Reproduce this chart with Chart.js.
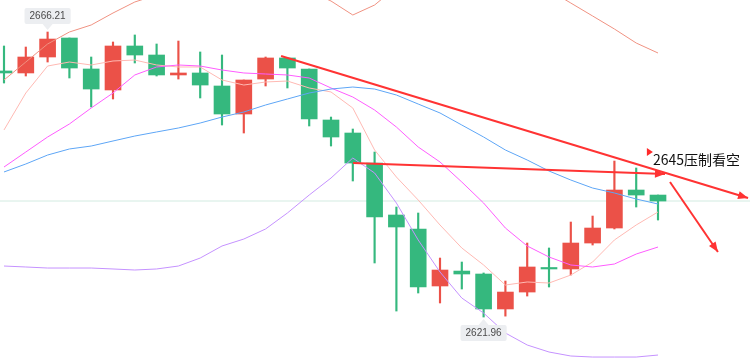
<!DOCTYPE html>
<html><head><meta charset="utf-8">
<script src="https://cdn.jsdelivr.net/npm/chart.js@4.4.1/dist/chart.umd.min.js"></script>
<style>html,body{margin:0;padding:0;background:#fff;overflow:hidden}#wrap{width:750px;height:358px;position:relative}</style>
</head><body><div id="wrap"><canvas id="c"></canvas></div>
<script>
// ---- data ----
const opens  = [2660.16,2659.85,2662.33,2665.28,2660.47,2657.21,2664.04,2662.64,2659.54,2659.85,2657.83,2653.48,2658.91,2662.18,2660.47,2652.55,2650.53,2645.87,2637.80,2635.63,2626.78,2629.10,2628.64,2623.21,2625.84,2629.57,2629.42,2633.45,2635.78,2641.68,2640.90];
const highs  = [2664.04,2663.88,2666.21,2665.28,2662.33,2664.66,2665.75,2664.35,2664.81,2663.11,2662.64,2658.76,2662.33,2662.18,2660.47,2653.01,2651.15,2647.58,2639.04,2638.11,2631.12,2630.50,2628.80,2627.55,2633.45,2632.68,2636.71,2637.64,2646.18,2645.10,2640.90];
const lows   = [2658.29,2659.38,2661.55,2659.07,2654.57,2655.81,2661.40,2659.38,2658.91,2655.97,2651.77,2650.53,2657.83,2657.52,2651.62,2648.51,2643.08,2630.35,2622.89,2625.69,2624.14,2626.31,2621.96,2622.10,2625.22,2626.62,2628.48,2633.14,2635.63,2639.04,2637.02];
const closes = [2659.85,2662.33,2665.12,2660.62,2657.36,2664.04,2662.64,2659.54,2659.85,2657.98,2653.48,2658.76,2662.18,2660.62,2652.70,2649.91,2645.87,2637.49,2635.94,2626.62,2629.26,2628.64,2623.21,2625.84,2629.73,2629.42,2633.45,2635.78,2641.68,2640.90,2639.97];
const ma5    = [2651.00,2656.74,2660.93,2661.55,2661.09,2661.71,2661.86,2661.09,2660.78,2660.78,2658.76,2657.98,2658.45,2658.60,2657.52,2656.90,2654.41,2647.89,2643.70,2640.13,2636.25,2632.68,2630.04,2626.93,2627.40,2627.24,2628.48,2630.50,2633.92,2636.25,2638.27];
const ma10   = [2645.25,2647.58,2649.91,2651.93,2654.41,2656.74,2659.54,2660.78,2661.09,2660.93,2660.31,2659.85,2659.69,2659.54,2659.07,2657.52,2656.12,2654.10,2651.46,2648.36,2646.03,2642.92,2639.66,2635.78,2632.99,2631.28,2630.04,2629.73,2630.19,2631.74,2632.83];
const bollMid   = [2644.48,2645.72,2647.11,2648.05,2648.51,2649.29,2650.06,2650.69,2651.31,2652.08,2653.01,2653.79,2654.88,2655.81,2656.74,2657.36,2657.67,2657.36,2656.43,2655.03,2653.64,2651.77,2649.91,2647.89,2646.34,2644.63,2643.23,2641.99,2641.22,2640.28,2639.51];
const bollUpper = [2658.76,2661.55,2664.35,2666.21,2667.30,2669.16,2670.87,2671.96,2672.73,2673.04,2673.04,2673.51,2674.13,2673.51,2672.58,2671.02,2668.85,2670.40,2673.20,2676.15,2678.32,2678.63,2677.23,2676.30,2675.06,2672.73,2670.71,2668.70,2666.68,2664.50,2662.95];
const bollLower = [2629.88,2629.73,2629.57,2629.57,2629.57,2629.42,2629.26,2629.42,2629.88,2631.12,2632.99,2634.07,2635.63,2638.11,2640.90,2643.54,2646.65,2644.32,2639.66,2633.92,2628.95,2624.91,2622.58,2619.48,2617.62,2616.53,2615.91,2615.75,2615.75,2615.75,2616.06];
const categories = opens.map((_, i) => i);
// drawn annotations, in (index, price) units
const trendLine1 = [[12.71, 2662.49], [34.13, 2640.44]];
const trendLine2 = [[16.01, 2645.87], [30.32, 2644.16]];
const arrowDown  = [[30.55, 2642.92], [32.75, 2632.05]];
const noteText   = '2645压制看空';
const notePos    = [29.72, 2647.58];
const highLabel  = [2, 2666.21, '2666.21'];
const lowLabel   = [22, 2621.96, '2621.96'];

const UP = '#eb5148', DOWN = '#35b87e';
const isUp = categories.map(i => closes[i] >= opens[i]);
const bodies = categories.map(i => ({x: i, y: [opens[i], closes[i]]}));
const wicks  = categories.map(i => ({x: i, y: [lows[i], highs[i]]}));
const toPts = arr => arr.map((v, i) => ({x: i, y: v}));
const seg = arr => arr.map(p => ({x: p[0], y: p[1]}));
const lastClose = closes[closes.length - 1];

const lineDs = (data, color, order, w) => ({type: 'line', data, borderColor: color, borderWidth: w || 1, pointRadius: 0, tension: 0, order, fill: false});

const overlay = {
  id: 'overlay',
  afterDatasetsDraw(chart) {
    const ctx = chart.ctx, xs = chart.scales.x, ys = chart.scales.y;
    ctx.save();
    chart.data.datasets.forEach((ds, di) => {
      if (!ds.arrow) return;
      const pts = chart.getDatasetMeta(di).data;
      const a = pts[pts.length - 2], b = pts[pts.length - 1];
      const ang = Math.atan2(b.y - a.y, b.x - a.x);
      const L = 10, W = 4;
      ctx.fillStyle = ds.borderColor;
      ctx.beginPath();
      ctx.moveTo(b.x, b.y);
      ctx.lineTo(b.x - L * Math.cos(ang) + W * Math.sin(ang), b.y - L * Math.sin(ang) - W * Math.cos(ang));
      ctx.lineTo(b.x - L * Math.cos(ang) - W * Math.sin(ang), b.y - L * Math.sin(ang) + W * Math.cos(ang));
      ctx.closePath();
      ctx.fill();
    });
    const nx = xs.getPixelForValue(notePos[0]), ny = ys.getPixelForValue(notePos[1]);
    ctx.fillStyle = '#ff2a2a';
    ctx.beginPath();
    ctx.moveTo(nx - 5, ny - 4); ctx.lineTo(nx + 1, ny); ctx.lineTo(nx - 5, ny + 4); ctx.closePath(); ctx.fill();
    ctx.fillStyle = '#111';
    ctx.font = '14px "Noto Sans CJK SC", sans-serif';
    ctx.textBaseline = 'middle';
    ctx.textAlign = 'left';
    ctx.fillText(noteText, nx + 1, ny + 8);
    const bubble = (lab, above) => {
      const px = xs.getPixelForValue(lab[0]), py = ys.getPixelForValue(lab[1]);
      ctx.font = '10px "Liberation Sans", Arial, sans-serif';
      const tw = ctx.measureText(lab[2]).width;
      const bw = tw + 10, bh = 16;
      const tip = above ? py - 2 : py + 2;
      const by = above ? tip - 6 - bh : tip + 6;
      ctx.fillStyle = '#eceef1';
      ctx.beginPath();
      if (ctx.roundRect) ctx.roundRect(px - bw / 2, by, bw, bh, 2); else ctx.rect(px - bw / 2, by, bw, bh);
      ctx.fill();
      ctx.beginPath();
      if (above) { ctx.moveTo(px - 5, by + bh); ctx.lineTo(px, tip); ctx.lineTo(px + 5, by + bh); }
      else { ctx.moveTo(px - 5, by); ctx.lineTo(px, tip); ctx.lineTo(px + 5, by); }
      ctx.closePath(); ctx.fill();
      ctx.fillStyle = '#4a4a4a';
      ctx.textAlign = 'center';
      ctx.textBaseline = 'middle';
      ctx.fillText(lab[2], px, by + bh / 2 + 0.5);
    };
    bubble(highLabel, true);
    bubble(lowLabel, false);
    ctx.restore();
  }
};

new Chart(document.getElementById('c'), {
  type: 'bar',
  data: {
    datasets: [
      {type: 'bar', data: wicks, backgroundColor: categories.map(i => isUp[i] ? UP : DOWN), barThickness: 1.5, grouped: false, order: 3},
      {type: 'bar', data: bodies, backgroundColor: categories.map(i => isUp[i] ? UP : DOWN), barThickness: 16, minBarLength: 1.5, grouped: false, order: 2},
      lineDs([{x: -1, y: lastClose}, {x: 35, y: lastClose}], '#d3ebe1', 4, 1),
      lineDs(toPts(bollUpper), '#f09282', 1),
      lineDs(toPts(bollLower), '#c592ff', 1),
      lineDs(toPts(bollMid), '#5ea6f6', 1),
      lineDs(toPts(ma10), '#ff5cff', 1),
      lineDs(toPts(ma5), '#ffb9b3', 1),
      Object.assign(lineDs(seg(trendLine1), '#ff3333', 0, 2), {arrow: true}),
      Object.assign(lineDs(seg(trendLine2), '#ff3333', 0, 2), {arrow: true}),
      Object.assign(lineDs(seg(arrowDown), '#ff3333', 0, 2), {arrow: true})
    ]
  },
  options: {
    responsive: true,
    maintainAspectRatio: false,
    animation: false,
    events: [],
    layout: {padding: 0},
    plugins: {legend: {display: false}, tooltip: {enabled: false}},
    scales: {
      x: {type: 'linear', display: false, offset: false, min: -0.1835, max: 34.22},
      y: {type: 'linear', display: false, min: 2615.60, max: 2671.18}
    }
  },
  plugins: [overlay]
});
</script></body></html>
